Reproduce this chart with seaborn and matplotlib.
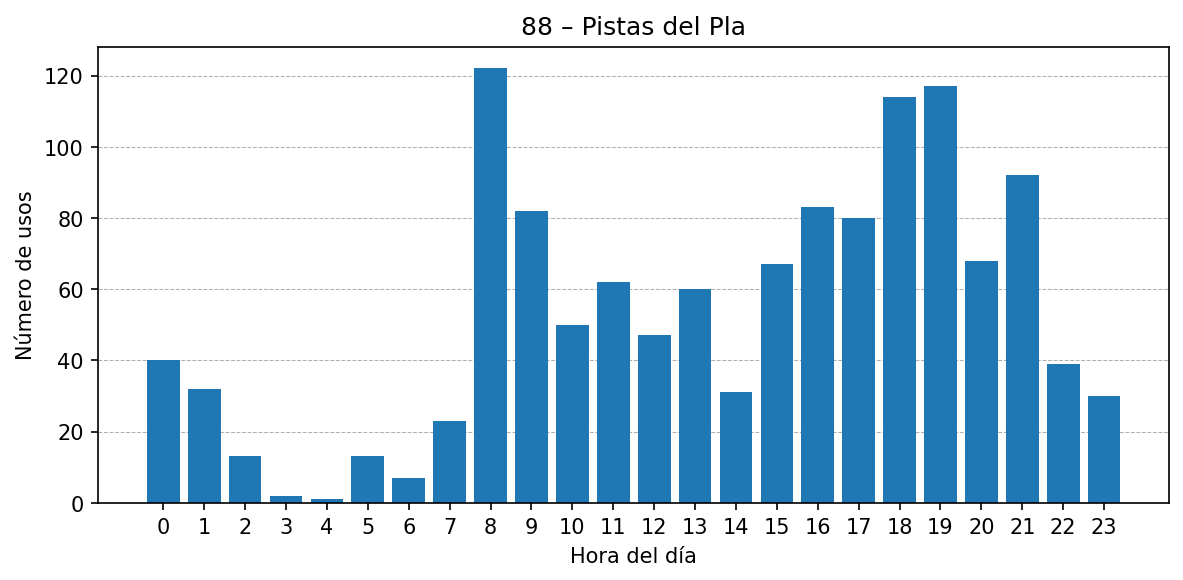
import matplotlib
matplotlib.use("Agg")
import matplotlib.pyplot as plt
import seaborn as sns
import pandas as pd

hours = list(range(24))
usos = [40, 32, 13, 2, 1, 13, 7, 23, 122, 82, 50, 62, 47, 60, 31, 67, 83, 80, 114, 117, 68, 92, 39, 30]

sns.set_style("ticks")
plt.rcParams['font.family'] = ['DejaVu Sans']
plt.rcParams['text.color'] = 'black'
plt.rcParams['axes.labelcolor'] = 'black'
plt.rcParams['xtick.color'] = 'black'
plt.rcParams['ytick.color'] = 'black'

df = pd.DataFrame({"hora": hours, "usos": usos})

fig, ax = plt.subplots(figsize=(7.893, 3.873), dpi=150)
sns.barplot(data=df, x="hora", y="usos", color="#1f77b4", saturation=1, width=0.8,
            linewidth=0, edgecolor="none", ax=ax, zorder=2)
ax.set_xlim(-1.59, 24.59)
ax.set_ylim(0, 128.1)
ax.set_yticks([0, 20, 40, 60, 80, 100, 120])
ax.yaxis.grid(True, linestyle="--", linewidth=0.5, color="#b0b0b0", alpha=1)
ax.set_axisbelow(True)
for s in ax.spines.values():
    s.set_visible(True)
    s.set_color("black")
    s.set_linewidth(0.8)
ax.tick_params(colors="black", width=0.8, length=3.5)
ax.set_title("88 – Pistas del Pla", fontsize=12, color="black")
ax.set_xlabel("Hora del día", fontsize=10, color="black")
ax.set_ylabel("Número de usos", fontsize=10, color="black")
fig.subplots_adjust(left=0.083, right=0.9875, top=0.918, bottom=0.133)
fig.savefig("out.png", dpi=150)
